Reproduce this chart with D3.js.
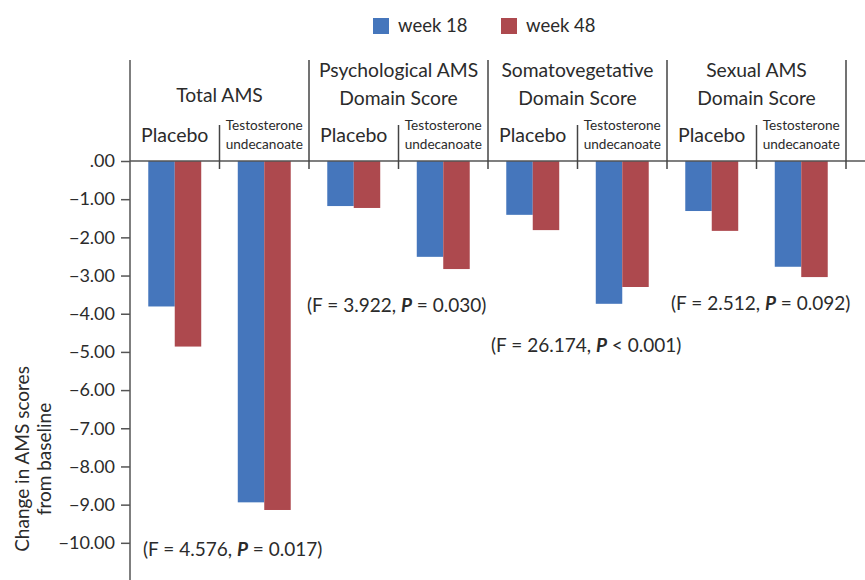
<!DOCTYPE html>
<html>
<head>
<meta charset="utf-8">
<script src="https://cdn.jsdelivr.net/npm/d3@7"></script>
<style>
  body { margin: 0; background: #fff; }
  svg text { font-family: Lato, "Open Sans", sans-serif; fill: #2b2b2b; }
</style>
</head>
<body>
<svg id="chart" width="865" height="580"></svg>
<script>
// data
const groups = ["Total AMS", "Psychological AMS|Domain Score", "Somatovegetative|Domain Score", "Sexual AMS|Domain Score"];
const arms = ["Placebo", "Testosterone|undecanoate"];
const series = ["week 18", "week 48"];
// values per group, [placebo, TU], each [week18, week48]
const week18 = [[-3.81, -8.94], [-1.18, -2.51], [-1.41, -3.74], [-1.31, -2.77]];
const week48 = [[-4.86, -9.14], [-1.23, -2.83], [-1.81, -3.30], [-1.83, -3.04]];
const yTicks = [0, -1, -2, -3, -4, -5, -6, -7, -8, -9, -10];
const stats = [
  { F: "4.576", op: "=", p: "0.017" },
  { F: "3.922", op: "=", p: "0.030" },
  { F: "26.174", op: "<", p: "0.001" },
  { F: "2.512", op: "=", p: "0.092" }
];
// where each stat label sits: value on y axis, left offset in group
const statPos = [
  { y: -10.35, dx: 13 },
  { y: -3.95, dx: -2 },
  { y: -5.0, dx: 3 },
  { y: -3.9, dx: 4 }
];

const colors = { "week 18": "#4576bc", "week 48": "#ad494e" };

const svg = d3.select("#chart");
const margin = { left: 130, right: 19, top: 60 };
const width = 865;

const y = d3.scaleLinear().domain([-11, 0]).range([581, 161]);
const x0 = d3.scaleBand().domain(groups).range([margin.left, width - margin.right]);
const x1 = d3.scaleBand().domain(arms).range([0, x0.bandwidth()]);
const x2 = d3.scaleBand().domain(series).range([0, x1.bandwidth()]).paddingOuter(0.69);

const rows = [];
groups.forEach((g, gi) => {
  arms.forEach((a, ai) => {
    rows.push({ g, a, s: "week 18", v: week18[gi][ai] });
    rows.push({ g, a, s: "week 48", v: week48[gi][ai] });
  });
});

// bars
svg.append("g")
  .selectAll("rect")
  .data(rows)
  .join("rect")
  .attr("x", d => x0(d.g) + x1(d.a) + x2(d.s))
  .attr("y", y(0))
  .attr("width", x2.bandwidth())
  .attr("height", d => y(d.v) - y(0))
  .attr("fill", d => colors[d.s]);

// y axis
const yAxis = d3.axisLeft(y)
  .tickValues(yTicks)
  .tickSize(9)
  .tickPadding(6)
  .tickFormat(d => d === 0 ? ".00" : "\u2212" + d3.format(".2f")(-d));

svg.append("g")
  .attr("transform", `translate(${margin.left},0)`)
  .call(yAxis)
  .call(g => g.select(".domain").remove())
  .call(g => g.selectAll("line").attr("stroke", "#555").attr("stroke-width", 1.5))
  .call(g => g.selectAll("text").attr("font-size", 18).attr("fill", "#2b2b2b").attr("font-family", "Lato, sans-serif"));

svg.append("line")
  .attr("x1", margin.left).attr("x2", margin.left)
  .attr("y1", margin.top).attr("y2", 580)
  .attr("stroke", "#555").attr("stroke-width", 1.5);

// zero line
svg.append("line")
  .attr("x1", margin.left).attr("x2", width)
  .attr("y1", y(0)).attr("y2", y(0))
  .attr("stroke", "#555").attr("stroke-width", 1.5);

// group dividers
groups.forEach(g => {
  const xr = x0(g) + x0.bandwidth();
  svg.append("line")
    .attr("x1", xr).attr("x2", xr)
    .attr("y1", margin.top).attr("y2", y(0) + 8)
    .attr("stroke", "#444").attr("stroke-width", 1.5);
  const xm = x0(g) + x1(arms[1]);
  svg.append("line")
    .attr("x1", xm).attr("x2", xm)
    .attr("y1", 125).attr("y2", y(0) + 8)
    .attr("stroke", "#444").attr("stroke-width", 1.5);
});

// group titles
groups.forEach(g => {
  const lines = g.split("|");
  const cx = x0(g) + x0.bandwidth() / 2;
  const t = svg.append("text")
    .attr("x", cx)
    .attr("text-anchor", "middle")
    .attr("font-size", 19.3);
  if (lines.length === 1) {
    t.attr("y", 102).text(lines[0]);
  } else {
    lines.forEach((l, i) => t.append("tspan").attr("x", cx).attr("y", 77 + i * 28).text(l));
  }

  arms.forEach(a => {
    const ax = x0(g) + x1(a) + x1.bandwidth() / 2;
    const parts = a.split("|");
    if (parts.length === 1) {
      svg.append("text").attr("x", ax).attr("y", 142)
        .attr("text-anchor", "middle").attr("font-size", 19.5).text(a);
    } else {
      const st = svg.append("text").attr("x", ax)
        .attr("text-anchor", "middle").attr("font-size", 13.6);
      parts.forEach((l, i) => st.append("tspan").attr("x", ax).attr("y", 130 + i * 19).text(l));
    }
  });
});

// stats labels
stats.forEach((s, i) => {
  const t = svg.append("text")
    .attr("x", x0(groups[i]) + statPos[i].dx)
    .attr("y", y(statPos[i].y))
    .attr("font-size", 19);
  t.append("tspan").text(`(F = ${s.F}, `);
  t.append("tspan").attr("font-weight", "bold").attr("font-style", "italic").text("P");
  t.append("tspan").text(` ${s.op} ${s.p})`);
});

// y axis title
svg.append("text")
  .attr("transform", "translate(29,459) rotate(-90)")
  .attr("text-anchor", "middle")
  .attr("font-size", 19)
  .call(t => {
    t.append("tspan").attr("x", 0).attr("y", 0).text("Change in AMS scores");
    t.append("tspan").attr("x", 0).attr("y", 22).text("from baseline");
  });

// legend
const legend = svg.append("g");
const legendX = [373, 501];
series.forEach((s, i) => {
  legend.append("rect")
    .attr("x", legendX[i]).attr("y", 18)
    .attr("width", 16).attr("height", 16)
    .attr("fill", colors[s]);
  legend.append("text")
    .attr("x", legendX[i] + 25).attr("y", 32)
    .attr("font-size", 18.5)
    .text(s);
});
</script>
</body>
</html>
